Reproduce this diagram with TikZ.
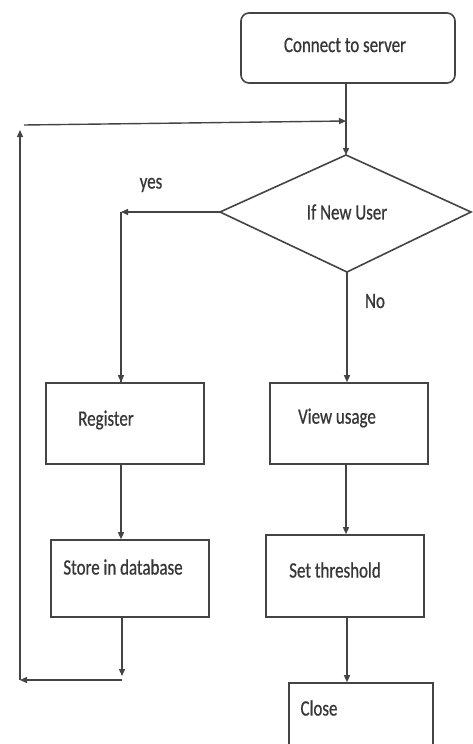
\documentclass[tikz,border=0pt]{standalone}
\usepackage{fontspec}
\newfontfamily\lblfont[FakeStretch=0.77,FakeBold=0.6]{Carlito}
\usetikzlibrary{arrows.meta}
\definecolor{ink}{RGB}{68,68,68}
\definecolor{txt}{RGB}{55,55,55}
\begin{document}
\begin{tikzpicture}[x=1pt,y=-1pt,
  line width=1.6pt, draw=ink,
  box/.style={draw=ink, line width=1.6pt, rectangle, inner sep=0pt},
  lbl/.style={font=\lblfont\fontsize{22}{24}\selectfont, text=txt, inner sep=0pt},
  arr/.style={draw=ink, line width=1.4pt, -{Triangle[length=7pt,width=6pt]}},
  ln/.style={draw=ink, line width=1.4pt}]
\useasboundingbox (0,0) rectangle (473,744);
\fill[white] (0,0) rectangle (473,744);

% boxes
\node[box, rounded corners=8pt, minimum width=214pt, minimum height=70pt] (conn) at (348,48) {};
\coordinate (dtop) at (346,155);
\coordinate (dleft) at (220,212);
\coordinate (dright) at (471,212);
\coordinate (dbot) at (347,272);
\draw[ink, line width=1.6pt, line join=miter] (dtop) -- (dright) -- (dbot) -- (dleft) -- cycle;

\node[box, minimum width=158pt, minimum height=81pt] (reg) at (125,423.5) {};
\node[box, minimum width=158pt, minimum height=81pt] (view) at (349,423.5) {};
\node[box, minimum width=158pt, minimum height=77pt] (store) at (130,578.5) {};
\node[box, minimum width=158pt, minimum height=82pt] (setth) at (345,576) {};
\node[box, minimum width=144pt, minimum height=76pt] (close) at (361,721) {};

% texts
\node[lbl] (tconn) at (345,45) {Connect to server};
\node[lbl] (tif) at (347,212) {If New User};
\node[lbl] (tyes) at (151,185) {yes};
\node[lbl] (tno) at (375,301) {No};
\node[lbl] (treg) at (106,420) {Register};
\node[lbl] (tview) at (337,418) {View usage};
\node[lbl] (tstore) at (123,567) {Store in database};
\node[lbl] (tset) at (335,570) {Set threshold};
\node[lbl] (tclose) at (319,708) {Close};

% connector points
\coordinate (ytop) at (121,212);
\coordinate (loopR) at (346,121);
\coordinate (loopL) at (24,125);
\coordinate (lbot) at (20,680);
\coordinate (ltop) at (20,130);
\coordinate (sbot) at (122,676);
\coordinate (scorner) at (122,680);

% connectors
\draw[arr] (conn.south -| dtop) -- (dtop);
\draw[arr] (loopL) -- (loopR);
\draw[arr] (dleft) -- (ytop);
\draw[ln] (ytop) -- (ytop |- reg.north) coordinate (regtop);
\draw[arr] (ytop) -- (regtop);
\draw[arr] (dbot) -- (dbot |- view.north);
\draw[arr] (reg.south -| ytop) -- (ytop |- store.north);
\draw[arr] (view.south -| dtop) -- (dtop |- setth.north);
\draw[arr] (store.south -| sbot) -- (sbot);
\draw[arr] (scorner) -- (lbot);
\draw[arr] (lbot) -- (ltop);
\draw[arr] (setth.south -| dbot) -- (dbot |- close.north);
\end{tikzpicture}
\end{document}
